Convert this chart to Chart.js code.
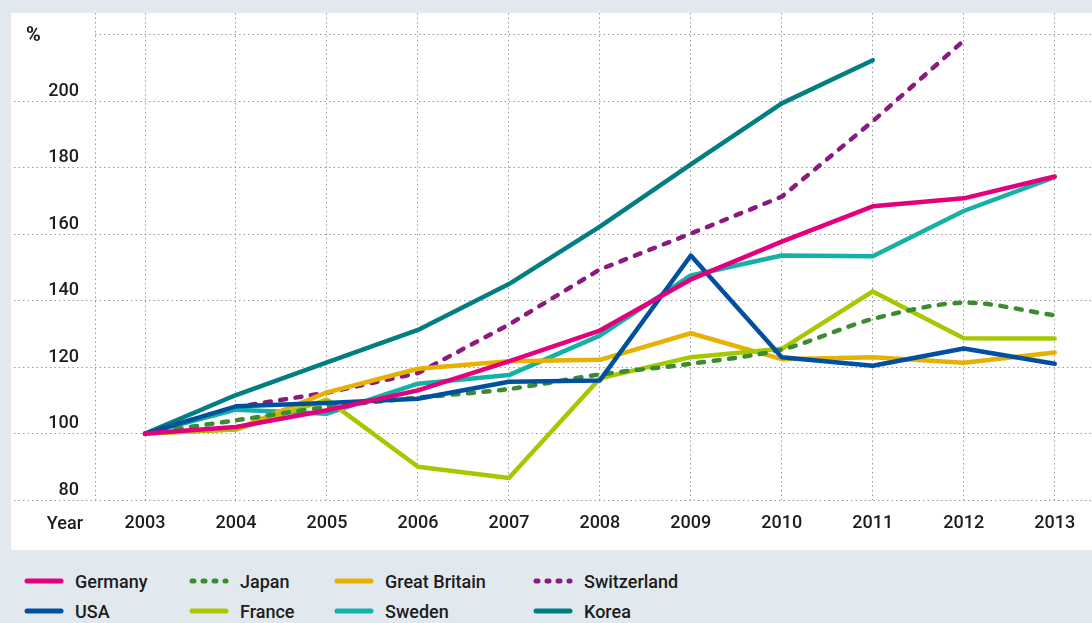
<!DOCTYPE html>
<html>
<head>
<meta charset="utf-8">
<script src="https://cdn.jsdelivr.net/npm/chart.js@4.4.1/dist/chart.umd.min.js"></script>
<style>
    html, body { margin: 0; padding: 0; }
    body {
        width: 1092px; height: 623px; position: relative; overflow: hidden;
        background: #e1e9ef;
        font-family: 'Roboto', 'DejaVu Sans Condensed', sans-serif;
        color: #1d1d1b;
    }
    #panel { position: absolute; left: 11px; top: 13px; width: 1081px; height: 537px; background: #fff; }
    #lineChart { display: block; }
    .legend-item { position: absolute; height: 24px; display: flex; align-items: center; font-size: 18px; font-weight: 500; white-space: nowrap; }
    .legend-item svg { margin-right: 11px; }
</style>
</head>
<body>
<div id="panel"><canvas id="lineChart" width="1081" height="537"></canvas></div>
<div id="legend"></div>
<script>
const years = [2003, 2004, 2005, 2006, 2007, 2008, 2009, 2010, 2011, 2012, 2013];
const yTicks = [80, 100, 120, 140, 160, 180, 200, 220];

const germany     = [100, 102.0, 107.0, 113.0, 121.7, 131.0, 146.4, 157.8, 168.4, 170.8, 177.4];
const usa         = [100, 108.2, 109.2, 110.5, 115.6, 116.0, 153.6, 123.0, 120.4, 125.6, 121.0];
const japan       = [100, 104.0, 108.0, 110.8, 113.4, 117.8, 121.0, 125.3, 134.5, 139.4, 135.6];
const france      = [100, 101.2, 110.2, 90.0, 86.6, 116.6, 123.0, 125.5, 142.8, 128.7, 128.6];
const greatBritain = [100, 101.3, 112.4, 119.5, 121.8, 122.2, 130.2, 122.4, 123.0, 121.3, 124.4];
const sweden      = [100, 107.2, 106.0, 115.0, 117.6, 129.5, 147.6, 153.6, 153.4, 167.0, 177.2];
const switzerland = [100, 108.0, 112.3, 118.2, 132.8, 149.4, 160.2, 171.3, 194.0, 218.3];
const korea       = [100, 111.6, 121.4, 131.2, 145.0, 162.3, 181.0, 199.4, 212.4];

const fontFamily = "'Roboto', 'DejaVu Sans Condensed', sans-serif";
const fontSize = 18;
const textColor = '#1d1d1b';
const gridColor = '#9a9a9a';
const dotted = [1.5, 3];

// series in legend order (column by column), first one drawn on top
const series = [
    { label: 'Germany',       values: germany,      color: '#e4007c', dashed: false },
    { label: 'USA',           values: usa,          color: '#0050a0', dashed: false },
    { label: 'Japan',         values: japan,        color: '#3d8b30', dashed: true, tension: 0.3 },
    { label: 'France',        values: france,       color: '#a7c800', dashed: false },
    { label: 'Great Britain', values: greatBritain, color: '#e6b100', dashed: false },
    { label: 'Sweden',        values: sweden,       color: '#14b1a8', dashed: false },
    { label: 'Switzerland',   values: switzerland,  color: '#8b1a7f', dashed: true },
    { label: 'Korea',         values: korea,        color: '#007e82', dashed: false }
];

const xMin = 2002.45;

const axisTitles = {
    id: 'axisTitles',
    afterDraw(chart) {
        const c = chart.ctx;
        c.save();
        c.fillStyle = textColor;
        c.textBaseline = 'middle';
        c.textAlign = 'left';
        c.font = 'bold 20px ' + fontFamily;
        c.fillText('%', 15, chart.scales.y.getPixelForValue(220) + 1);
        c.font = '500 ' + fontSize + 'px ' + fontFamily;
        c.textAlign = 'right';
        c.fillText('Year', 72, chart.chartArea.bottom + 24);
        c.restore();
    }
};

const ctx = document.getElementById('lineChart').getContext('2d');
new Chart(ctx, {
    type: 'line',
    data: {
        datasets: series.map(s => ({
            label: s.label,
            data: s.values.map((v, i) => ({ x: years[i], y: v })),
            borderColor: s.color,
            backgroundColor: s.color,
            borderWidth: 4.5,
            borderDash: s.dashed ? [6, 9.5] : [],
            borderCapStyle: 'round',
            borderJoinStyle: 'round',
            tension: s.tension || 0,
            pointRadius: 0,
            fill: false
        }))
    },
    options: {
        responsive: false,
        animation: false,
        layout: { padding: 0 },
        plugins: {
            legend: { display: false },
            tooltip: { enabled: false }
        },
        scales: {
            x: {
                type: 'linear',
                min: xMin,
                max: 2013.41,
                afterBuildTicks: s => { s.ticks = [xMin, ...years].map(v => ({ value: v })); },
                afterFit: s => { s.height = 50; },
                border: { display: false, dash: dotted },
                grid: { color: gridColor, lineWidth: 1, drawTicks: false },
                ticks: {
                    padding: 13,
                    maxRotation: 0,
                    color: textColor,
                    font: { family: fontFamily, size: fontSize, weight: '500' },
                    callback: v => years.includes(v) ? String(v) : ''
                }
            },
            y: {
                min: 80,
                max: 226.6,
                afterBuildTicks: s => { s.ticks = yTicks.map(v => ({ value: v })); },
                afterFit: s => { s.width = 84; },
                border: { display: false, dash: dotted },
                grid: {
                    color: gridColor,
                    lineWidth: 1,
                    tickLength: 81,
                    tickBorderDash: dotted,
                    tickColor: c => (c.tick && c.tick.value === 220) ? 'rgba(0,0,0,0)' : gridColor
                },
                ticks: {
                    padding: -65,
                    labelOffset: -10,
                    color: textColor,
                    font: { family: fontFamily, size: fontSize, weight: '500' },
                    callback: v => v === 220 ? '' : v
                }
            }
        }
    },
    plugins: [axisTitles]
});

// legend: 4 columns x 2 rows under the panel
const legendCols = [24, 189, 334, 533];
const legendRows = [581, 611];
const legend = document.getElementById('legend');
series.forEach((s, i) => {
    const item = document.createElement('div');
    item.className = 'legend-item';
    item.style.left = legendCols[Math.floor(i / 2)] + 'px';
    item.style.top = (legendRows[i % 2] - 12) + 'px';
    const dash = s.dashed ? ' stroke-dasharray="2 9"' : '';
    item.innerHTML =
        '<svg width="40" height="8"><line x1="3" y1="4" x2="37" y2="4" stroke="' + s.color +
        '" stroke-width="5" stroke-linecap="round"' + dash + '/></svg><span>' + s.label + '</span>';
    legend.appendChild(item);
});
</script>
</body>
</html>
